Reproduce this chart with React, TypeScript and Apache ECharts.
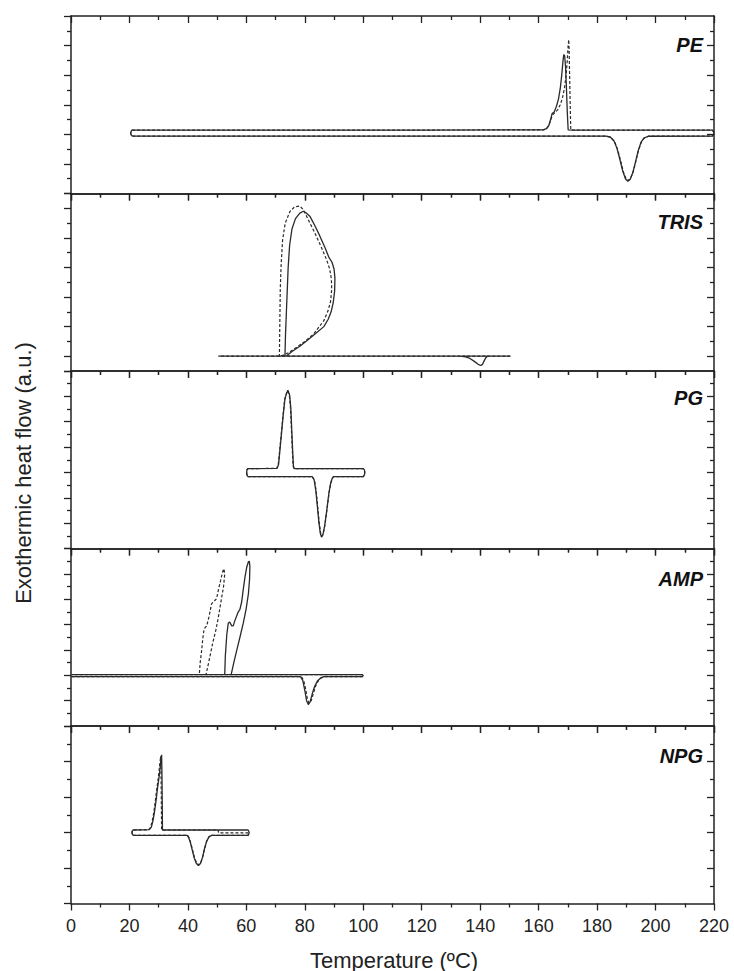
import React, { useEffect, useRef } from 'react';
import * as echarts from 'echarts';

// ---------- axis definitions ----------
const xMin = 0;
const xMax = 220;
const xStep = 20;
const panelNames = ['PE', 'TRIS', 'PG', 'AMP', 'NPG'];
const xTitle = 'Temperature (ºC)';
const yTitle = 'Exothermic heat flow (a.u.)';

// y ranges in a.u. (one unit = one minor tick)
const yMins = [-4, -1, -6, -4, -4];
const yMaxs = [8, 11, 8, 10, 6];

// ---------- data: [temperature, heat flow] ----------
const peSolid = [
  [21, -0.12], [60, -0.12], [120, -0.12], [183, -0.12], [184.5, -0.18], [185.8, -0.45], [186.8, -0.95],
  [187.8, -1.7], [188.8, -2.5], [189.7, -3.0], [190.5, -3.17], [191.3, -3.05], [192.2, -2.6], [193.1, -1.9],
  [194, -1.15], [195, -0.55], [196, -0.25], [197.5, -0.13], [219.4, -0.12], [219.9, 0.0], [219.9, 0.17],
  [219.4, 0.29], [172, 0.29], [170.1, 0.3], [169.8, 1.5], [169.5, 3.2], [169.2, 4.6], [168.9, 5.3],
  [168.6, 5.4], [168.3, 4.9], [167.9, 4.0], [167.4, 3.1], [166.8, 2.4], [166.1, 1.9], [165.3, 1.5],
  [164.6, 1.4], [164.1, 1.0], [163.5, 0.6], [162.7, 0.38], [161.5, 0.3], [120, 0.29], [60, 0.29],
  [21, 0.29], [20.6, 0.22], [20.4, 0.08], [20.6, -0.05], [21, -0.12],
];
const peDashed = [
  [21, -0.12], [120, -0.12], [183.2, -0.12], [184.7, -0.2], [186, -0.5], [187, -1.0], [188, -1.75],
  [189, -2.55], [189.9, -3.0], [190.7, -3.12], [191.5, -2.95], [192.4, -2.5], [193.3, -1.8], [194.2, -1.05],
  [195.2, -0.5], [196.3, -0.22], [197.8, -0.12], [219.4, -0.12], [219.9, 0.0], [219.9, 0.17], [219.4, 0.29],
  [172, 0.29], [171.0, 0.3], [170.8, 2.0], [170.6, 4.0], [170.45, 5.6], [170.3, 6.4], [170.1, 6.0],
  [169.8, 5.0], [169.4, 4.0], [168.9, 3.2], [168.2, 2.5], [167.4, 2.0], [166.5, 1.65], [165.5, 1.45],
  [164.7, 1.3], [164.1, 0.95], [163.4, 0.55], [162.6, 0.36], [161.5, 0.3], [120, 0.29], [21, 0.29],
  [20.6, 0.22], [20.4, 0.08], [20.6, -0.05], [21, -0.12],
];

const trisSolid = [
  [150.3, 0], [110, 0], [73.2, 0], [73.4, 1.5], [73.7, 3.0], [74.0, 4.5], [74.3, 6.0], [74.8, 7.5],
  [75.6, 8.6], [76.8, 9.3], [78.3, 9.67], [79.5, 9.8], [80.4, 9.7], [81.8, 9.44], [83.5, 8.8], [85.2, 8.1],
  [87.0, 7.3], [88.2, 6.7], [89.3, 6.35], [90.0, 5.9], [90.3, 5.3], [90.2, 4.4], [89.7, 3.6], [89.0, 3.0],
  [88.0, 2.5], [86.5, 2.0], [84.0, 1.58], [81.0, 1.1], [78.3, 0.67], [75.5, 0.3], [73.6, 0], [50.5, 0],
  [90, 0], [133, 0], [135, -0.05], [136.5, -0.15], [138, -0.35], [139.3, -0.55], [140.2, -0.63],
  [140.8, -0.55], [141.4, -0.3], [142.0, -0.08], [142.5, 0], [150.3, 0],
];
const trisDashed = [
  [150.3, 0], [110, 0], [71.3, 0], [71.4, 1.5], [71.5, 3.0], [71.6, 4.5], [71.9, 6.2], [72.4, 7.87],
  [73.3, 9.0], [74.9, 9.78], [76.5, 10.1], [78.3, 10.15], [79.5, 9.9], [81.0, 9.3], [83.5, 8.3],
  [85.8, 7.3], [87.5, 6.5], [88.5, 5.9], [89.1, 5.2], [89.2, 4.5], [88.8, 3.7], [88.0, 3.1], [86.5, 2.4],
  [83.0, 1.5], [80.0, 1.0], [77.2, 0.6], [74.5, 0.25], [71.8, 0], [50.5, 0],
];

const pgSolid = [
  [60.5, -0.33], [82.5, -0.33], [83.2, -0.6], [83.8, -1.5], [84.3, -2.7], [84.8, -3.9], [85.3, -4.8],
  [85.7, -5.1], [86.2, -4.9], [86.8, -4.2], [87.5, -3.0], [88.2, -1.7], [88.8, -0.9], [89.3, -0.5],
  [89.8, -0.33], [100.0, -0.33], [100.4, -0.2], [100.5, 0], [100.4, 0.2], [100.0, 0.3], [76.4, 0.3],
  [76.1, 0.5], [75.8, 1.9], [75.5, 3.5], [75.2, 5.1], [74.8, 6.1], [74.2, 6.49], [73.7, 6.2],
  [73.2, 5.8], [72.6, 4.5], [72.1, 3.25], [71.5, 1.8], [71.0, 0.6], [70.5, 0.32], [60.5, 0.3],
  [60.2, 0.2], [60.1, 0], [60.2, -0.2], [60.5, -0.33],
];
const pgDashed = [
  [60.5, -0.33], [82.6, -0.33], [83.3, -0.6], [83.9, -1.5], [84.4, -2.7], [84.9, -3.9], [85.4, -4.8],
  [85.8, -5.05], [86.3, -4.85], [86.9, -4.1], [87.6, -2.9], [88.3, -1.6], [88.9, -0.85], [89.4, -0.45],
  [89.9, -0.33], [100.0, -0.33], [100.4, -0.2], [100.5, 0], [100.4, 0.2], [100.0, 0.3], [76.3, 0.3],
  [76.0, 0.5], [75.7, 1.9], [75.4, 3.5], [75.1, 5.1], [74.7, 6.1], [74.1, 6.45], [73.6, 6.15],
  [73.1, 5.75], [72.5, 4.4], [72.0, 3.2], [71.4, 1.75], [70.9, 0.6], [70.4, 0.32], [60.5, 0.3],
  [60.2, 0.2], [60.1, 0], [60.2, -0.2], [60.5, -0.33],
];

const ampSolid = [
  [0.2, -0.1], [40, -0.1], [78.5, -0.1], [79.3, -0.4], [80.0, -1.2], [80.6, -2.0], [81.2, -2.31],
  [81.8, -2.1], [82.5, -1.5], [83.3, -0.9], [84.3, -0.45], [85.5, -0.2], [86.5, -0.1], [99.7, -0.1],
  [100, -0.03], [99.7, 0.05], [70, 0.05], [52.6, 0.05], [52.8, 1.5], [53.3, 3.2], [53.8, 4.1], [54.3, 4.2],
  [55.0, 3.9], [55.5, 3.9], [56.1, 4.33], [57.2, 4.99], [57.8, 5.2], [58.4, 5.8], [58.9, 6.7], [59.5, 7.7],
  [60.1, 8.5], [60.7, 8.95], [61.0, 9.0], [61.2, 8.6], [61.1, 7.6], [60.7, 6.43], [59.9, 5.2], [58.9, 4.07],
  [57.8, 3.0], [56.7, 1.97], [55.7, 1.0], [54.8, 0.05], [30, 0.05], [0.2, 0.05],
];
const ampDashed = [
  [0.2, -0.1], [40, -0.1], [78.8, -0.1], [79.6, -0.4], [80.3, -1.1], [80.9, -1.9], [81.5, -2.2],
  [82.2, -2.0], [82.9, -1.45], [83.7, -0.85], [84.7, -0.4], [85.8, -0.18], [86.8, -0.1], [99.7, -0.1],
  [100, -0.03], [99.7, 0.05], [70, 0.05], [43.9, 0.05], [44.2, 1.0], [44.7, 1.97], [45.1, 2.9],
  [45.5, 3.6], [46.0, 3.8], [46.4, 3.86], [47.2, 4.6], [48.1, 5.64], [48.6, 5.77], [49.2, 5.9],
  [49.8, 6.04], [50.5, 6.8], [51.2, 7.48], [51.8, 8.1], [52.3, 8.4], [52.6, 8.0], [52.2, 7.0],
  [51.6, 6.2], [51.0, 5.38], [50.2, 4.3], [49.5, 3.5], [48.7, 2.76], [47.9, 1.9], [47.0, 0.9],
  [46.2, 0.05], [30, 0.05], [0.2, 0.05],
];

const npgSolid = [
  [21.2, -0.16], [39.8, -0.16], [40.3, -0.3], [40.9, -0.6], [41.5, -1.0], [42.2, -1.45], [42.9, -1.75],
  [43.6, -1.86], [44.3, -1.75], [45.0, -1.4], [45.7, -0.9], [46.4, -0.5], [47.2, -0.25], [48.1, -0.16],
  [60.6, -0.16], [61.0, 0], [60.6, 0.14], [31.3, 0.14], [31.2, 2.0], [31.1, 3.5], [31.0, 4.38],
  [30.7, 4.0], [30.2, 3.2], [29.6, 2.5], [29.1, 1.8], [28.6, 1.2], [28.1, 0.7], [27.5, 0.3],
  [26.8, 0.16], [21.2, 0.14], [20.9, 0.05], [20.9, -0.05], [21.2, -0.16],
];
const npgDashed = [
  [21.2, -0.16], [39.9, -0.16], [40.4, -0.3], [41.0, -0.6], [41.6, -1.0], [42.3, -1.45], [43.0, -1.72],
  [43.7, -1.82], [44.4, -1.7], [45.1, -1.35], [45.8, -0.85], [46.5, -0.45], [47.3, -0.22], [48.2, -0.16],
  [60.6, -0.16], [61.0, -0.02], [50.5, -0.02], [50.3, 0.14], [31.0, 0.14], [30.9, 2.0], [30.8, 3.4],
  [30.7, 4.3], [30.4, 3.9], [29.9, 3.1], [29.3, 2.4], [28.8, 1.7], [28.3, 1.1], [27.8, 0.65],
  [27.2, 0.28], [26.5, 0.15], [21.2, 0.14], [20.9, 0.05], [20.9, -0.05], [21.2, -0.16],
];

const solidSeries = [peSolid, trisSolid, pgSolid, ampSolid, npgSolid];
const dashedSeries = [peDashed, trisDashed, pgDashed, ampDashed, npgDashed];

// ---------- layout ----------
const gridLeft = 71;
const gridWidth = 643;
const gridTops = [16, 193.5, 371, 548.5, 726];
const gridHeight = 177.5;
const labelY = [45, 222, 398, 579, 756];
const axisColor = '#222';
const lineColor = '#2a2a2a';
const FONT = '"Liberation Sans", Arial, Helvetica, sans-serif';

function range(a: number, b: number, step: number) {
  const out: number[] = [];
  for (let v = a; v <= b + 1e-9; v += step) out.push(v);
  return out;
}

export default function App() {
  const ref = useRef<HTMLDivElement>(null);
  useEffect(() => {
    const chart = echarts.init(ref.current!, null, { renderer: 'svg' });
    const grid: any[] = [];
    const xAxis: any[] = [];
    const yAxis: any[] = [];
    const series: any[] = [];
    const graphic: any[] = [];

    for (let i = 0; i < 5; i++) {
      grid.push({ left: gridLeft, width: gridWidth, top: gridTops[i], height: gridHeight });
      const isLast = i === 4;
      // bottom x axis
      xAxis.push({
        type: 'value', gridIndex: i, position: 'bottom', min: xMin, max: xMax, interval: xStep,
        axisLine: { show: true, onZero: false, lineStyle: { color: axisColor, width: 1.5 } },
        axisTick: { show: true, inside: false, length: 7, lineStyle: { color: axisColor, width: 1.3 } },
        minorTick: { show: true, splitNumber: 2, length: 4, lineStyle: { color: axisColor, width: 1.3 } },
        axisLabel: { show: isLast, fontSize: 18, color: '#222', margin: 13, fontFamily: FONT },
        splitLine: { show: false },
      });
      // top x axis
      xAxis.push({
        type: 'value', gridIndex: i, position: 'top', min: xMin, max: xMax, interval: xStep,
        axisLine: { show: true, onZero: false, lineStyle: { color: axisColor, width: 1.5 } },
        axisTick: { show: true, inside: true, length: 7, lineStyle: { color: axisColor, width: 1.3 } },
        minorTick: { show: true, splitNumber: 2, length: 4, lineStyle: { color: axisColor, width: 1.3 } },
        axisLabel: { show: false },
        splitLine: { show: false },
      });
      const mn = yMins[i];
      const mx = yMaxs[i];
      const all = range(mn, mx, 1);
      const majors = all.filter((v) => v % 2 === 0);
      const minors = all.filter((v) => Math.abs(v % 2) === 1 && v !== mn && v !== mx);
      const leftMajors = Array.from(new Set([mn, ...majors, mx]));
      const mkY = (pos: string, inside: boolean, vals: number[], len: number, showLine: boolean) => ({
        type: 'value', gridIndex: i, position: pos, min: mn, max: mx,
        axisLine: { show: showLine, onZero: false, lineStyle: { color: axisColor, width: 1.5 } },
        axisTick: { show: true, inside, length: len, customValues: vals, lineStyle: { color: axisColor, width: 1.3 } },
        axisLabel: { show: false },
        splitLine: { show: false },
      });
      yAxis.push(mkY('left', false, leftMajors, 7, true));
      yAxis.push(mkY('left', false, minors, 4, false));
      yAxis.push(mkY('right', true, majors.filter((v) => v !== mn && v !== mx), 7, true));
      yAxis.push(mkY('right', true, minors, 4, false));

      series.push({
        type: 'line', xAxisIndex: 2 * i, yAxisIndex: 4 * i, data: solidSeries[i],
        showSymbol: false, symbol: 'none', smooth: false, clip: false,
        lineStyle: { color: lineColor, width: 1.3 },
      });
      series.push({
        type: 'line', xAxisIndex: 2 * i, yAxisIndex: 4 * i, data: dashedSeries[i],
        showSymbol: false, symbol: 'none', smooth: false, clip: false,
        lineStyle: { color: lineColor, width: 1.2, type: [3, 2] },
      });

      graphic.push({
        type: 'text', x: 703, y: labelY[i], z: 10,
        style: {
          text: panelNames[i], align: 'right', verticalAlign: 'middle',
          font: `italic bold 20px ${FONT}`, fill: '#111',
        },
      });
    }

    graphic.push({
      type: 'text', x: 394, y: 960,
      style: { text: xTitle, align: 'center', verticalAlign: 'middle', font: `22px ${FONT}`, fill: '#222' },
    });
    graphic.push({
      type: 'text', x: 23, y: 473, rotation: Math.PI / 2,
      style: { text: yTitle, align: 'center', verticalAlign: 'middle', font: `22px ${FONT}`, fill: '#222' },
    });

    chart.setOption({
      animation: false,
      backgroundColor: '#fff',
      grid, xAxis, yAxis, series, graphic,
    });
    return () => chart.dispose();
  }, []);
  return (
    <div
      ref={ref}
      style={{ position: 'absolute', left: 0, top: 0, width: 734, height: 971, background: '#fff' }}
    />
  );
}
